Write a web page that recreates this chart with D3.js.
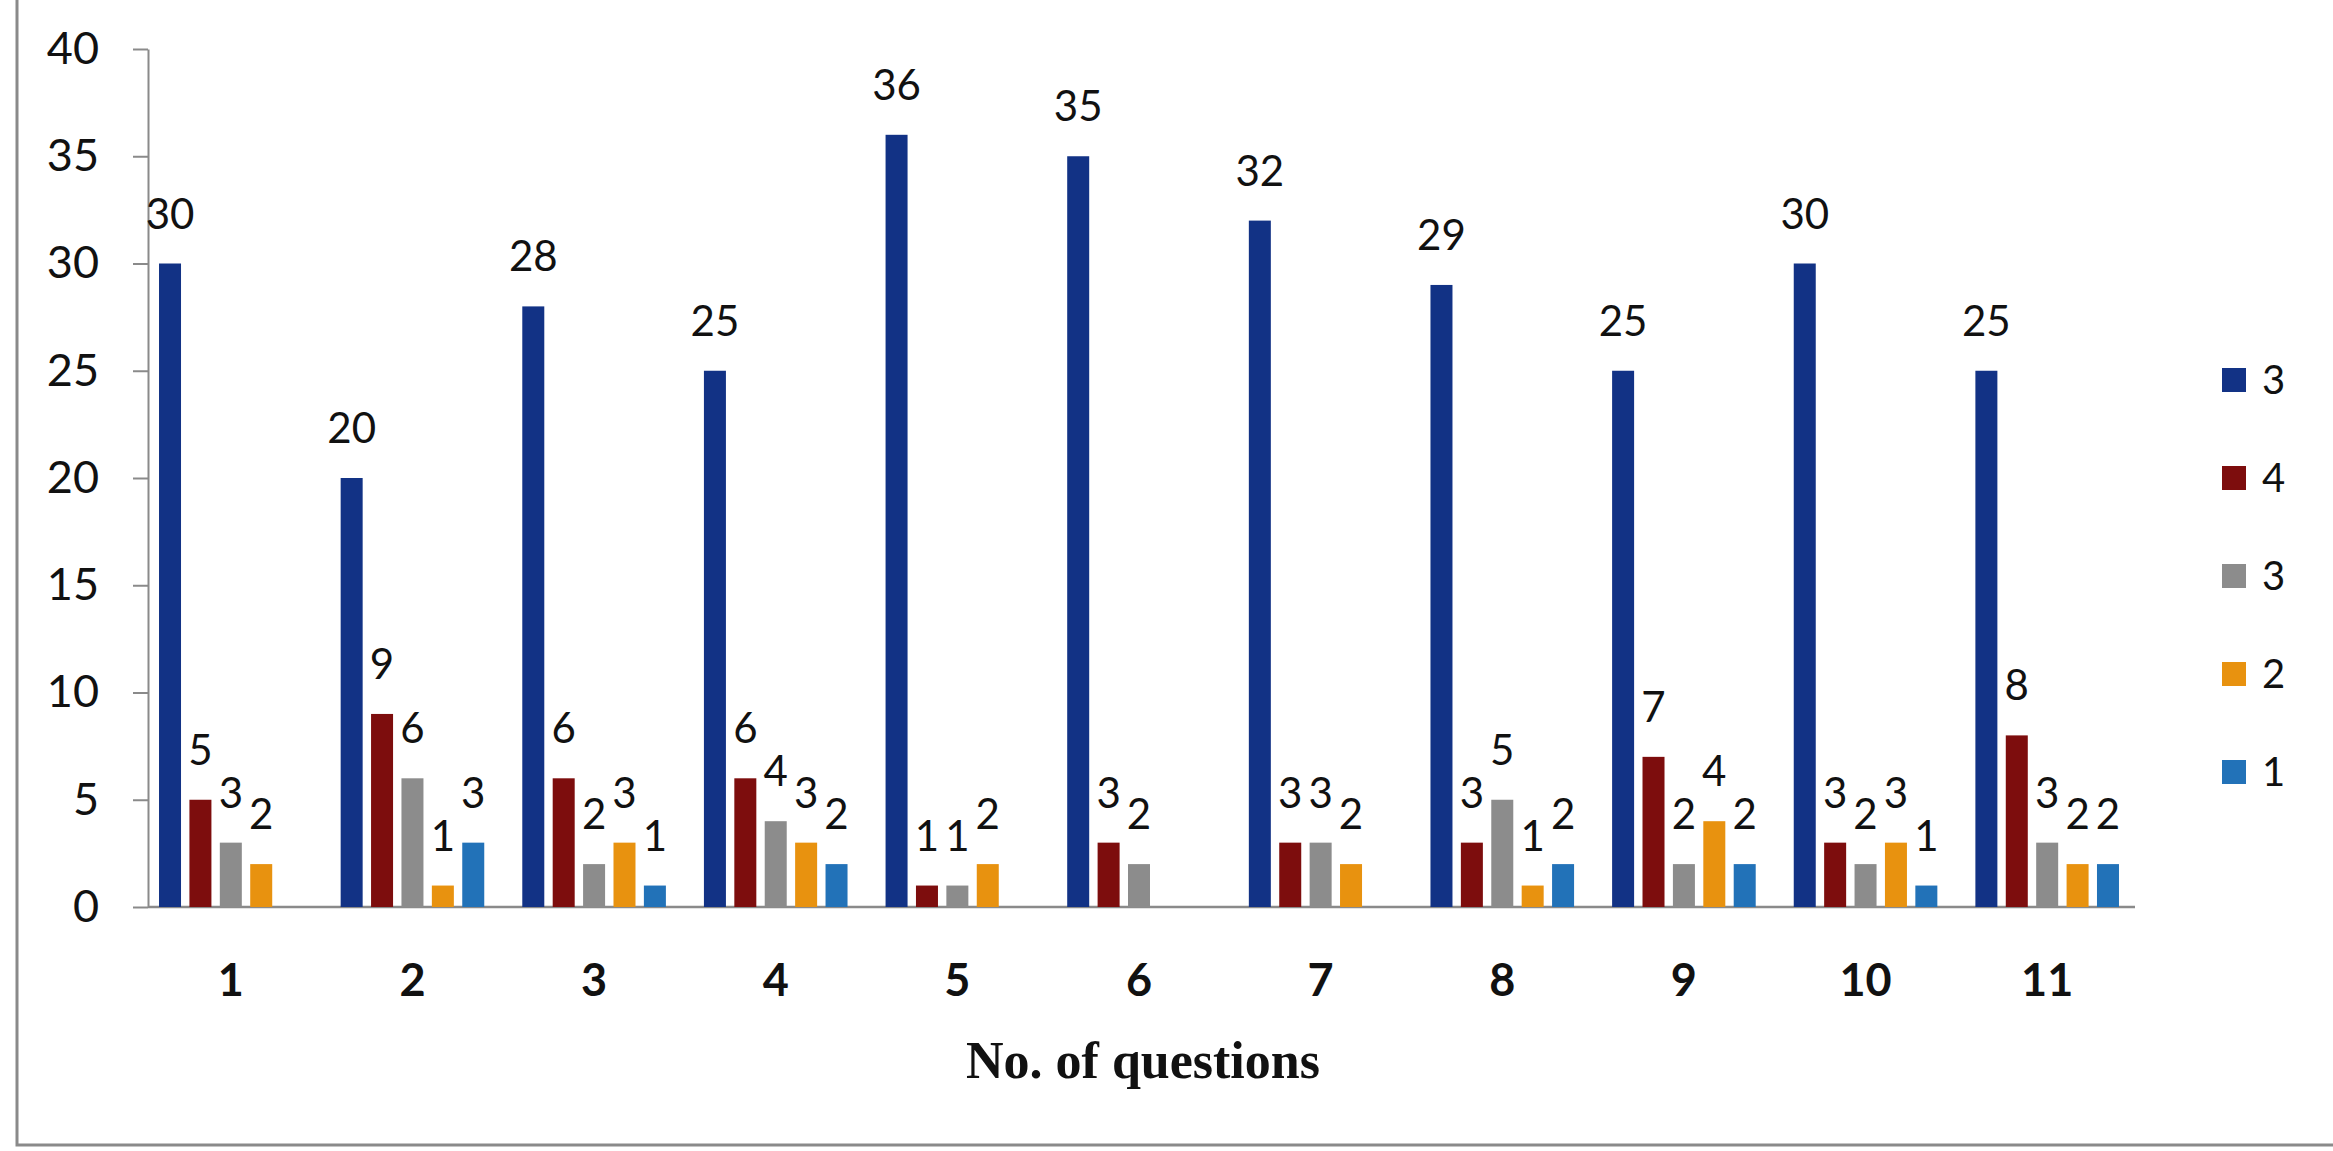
<!DOCTYPE html>
<html><head><meta charset="utf-8">
<script src="https://cdn.jsdelivr.net/npm/d3@7"></script>
<style>body{margin:0;background:#fff}svg{display:block}</style>
</head><body>
<script>
const categories = ["1","2","3","4","5","6","7","8","9","10","11"];
const seriesNames = ["3","4","3","2","1"];
const seriesColors = ["#123285","#7d0d0d","#8c8c8c","#e8920f","#2272b8"];
const s3a = [30,20,28,25,36,35,32,29,25,30,25];
const s4  = [5,9,6,6,1,3,3,3,7,3,8];
const s3b = [3,6,2,4,1,2,3,5,2,2,3];
const s2  = [2,1,3,3,2,0,2,1,4,3,2];
const s1  = [0,3,1,2,0,0,0,2,2,1,2];
const seriesValues = [s3a,s4,s3b,s2,s1];
const yTicks = [0,5,10,15,20,25,30,35,40];
const xTitle = "No. of questions";

const W = 2333, H = 1151;
const svg = d3.select("body").append("svg").attr("width",W).attr("height",H);

// outer chart border (left & bottom visible)
svg.append("path").attr("d",`M17,-5 L17,1145 L2340,1145`).attr("fill","none")
  .attr("stroke","#8a8a8a").attr("stroke-width",3);

const axisX = 148, right = 2135;
const x0 = d3.scaleBand().domain(categories).range([140,2138]).paddingInner(0).paddingOuter(0);
const x1 = d3.scaleBand().domain(d3.range(seriesNames.length)).range([-76,76]);
const y = d3.scaleLinear().domain([0,40]).range([907,49]);
const barW = 22;

// y axis
const yAxis = d3.axisLeft(y).tickValues(yTicks).tickSize(15).tickPadding(34).tickSizeOuter(0);
const gy = svg.append("g").attr("transform",`translate(${axisX},0)`).call(yAxis);
gy.select(".domain").attr("stroke","#8a8a8a").attr("stroke-width",2);
gy.selectAll(".tick line").attr("stroke","#8a8a8a").attr("stroke-width",2);
gy.selectAll(".tick text").attr("font-family","Lato, 'Open Sans', sans-serif")
  .attr("font-size",45).attr("fill","#111");

// x axis line
svg.append("line").attr("x1",axisX).attr("x2",right).attr("y1",y(0)).attr("y2",y(0))
  .attr("stroke","#8a8a8a").attr("stroke-width",2.5);

// x labels
svg.append("g").selectAll("text").data(categories).join("text")
  .attr("x",d=>x0(d)+x0.bandwidth()/2).attr("y",996)
  .attr("text-anchor","middle").attr("font-family","Lato, 'Open Sans', sans-serif")
  .attr("font-size",45).attr("font-weight",700).attr("fill","#111").text(d=>d);

// bars
const data = [];
seriesValues.forEach((vals,si)=>vals.forEach((v,ci)=>data.push({si,ci,v})));
const gb = svg.append("g");
gb.selectAll("rect").data(data.filter(d=>d.v>0)).join("rect")
  .attr("x",d=>x0(categories[d.ci])+x0.bandwidth()/2+x1(d.si)+x1.bandwidth()/2-barW/2)
  .attr("y",d=>y(d.v)).attr("width",barW).attr("height",d=>y(0)-y(d.v))
  .attr("fill",d=>seriesColors[d.si]);

// data labels
gb.selectAll("text").data(data.filter(d=>d.v>0)).join("text")
  .attr("x",d=>x0(categories[d.ci])+x0.bandwidth()/2+x1(d.si)+x1.bandwidth()/2)
  .attr("y",d=>y(d.v)-35).attr("text-anchor","middle")
  .attr("font-family","Lato, 'Open Sans', sans-serif").attr("font-size",42).attr("fill","#111")
  .text(d=>d.v);

// x title
svg.append("text").attr("x",1143).attr("y",1078).attr("text-anchor","middle")
  .attr("font-family","'Liberation Serif', serif").attr("font-weight",700).attr("font-size",52)
  .attr("fill","#111").text(xTitle);

// legend
const lg = svg.append("g").attr("transform","translate(2222,380)");
const items = lg.selectAll("g").data(seriesNames).join("g")
  .attr("transform",(d,i)=>`translate(0,${i*98})`);
items.append("rect").attr("x",0).attr("y",-12).attr("width",24).attr("height",24)
  .attr("fill",(d,i)=>seriesColors[i]);
items.append("text").attr("x",40).attr("y",0).attr("dy","0.36em")
  .attr("font-family","Lato, 'Open Sans', sans-serif").attr("font-size",40).attr("fill","#111")
  .text(d=>d);
</script>
</body></html>
